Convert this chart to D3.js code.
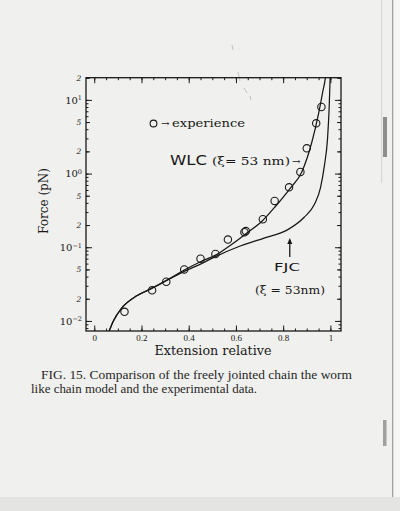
<!DOCTYPE html>
<html>
<head>
<meta charset="utf-8">
<script src="https://cdn.jsdelivr.net/npm/d3@7"></script>
<style>
  body { margin: 0; background: #efefed; }
  svg { display: block; }
</style>
</head>
<body>
<div id="chart"></div>
<script>
// experimental points (relative extension, force in pN)
var expX = [0.128, 0.245, 0.305, 0.381, 0.450, 0.513, 0.566, 0.636, 0.642, 0.714, 0.764, 0.825, 0.873, 0.900, 0.940, 0.962];
var expF = [0.0133, 0.026, 0.034, 0.050, 0.070, 0.081, 0.127, 0.160, 0.166, 0.240, 0.425, 0.65, 1.05, 2.2, 4.8, 8.0];

// worm like chain curve
var wlcX = [0.060, 0.081, 0.116, 0.180, 0.237, 0.315, 0.381, 0.450, 0.520, 0.580, 0.642, 0.710, 0.768, 0.828, 0.880, 0.922, 0.950, 0.968, 0.979, 0.984];
var wlcF = [0.0069, 0.0100, 0.0149, 0.0219, 0.0270, 0.0369, 0.0490, 0.0635, 0.0800, 0.108, 0.152, 0.225, 0.36, 0.62, 1.07, 2.7, 6.5, 13, 20, 28];

// freely jointed chain curve
var fjcX = [0.060, 0.081, 0.116, 0.180, 0.237, 0.315, 0.381, 0.450, 0.513, 0.605, 0.719, 0.818, 0.889, 0.932, 0.958, 0.975, 0.988, 0.995, 0.999, 1.001];
var fjcF = [0.0069, 0.0100, 0.0149, 0.0219, 0.0270, 0.0365, 0.0470, 0.0590, 0.0747, 0.100, 0.133, 0.172, 0.255, 0.38, 0.64, 1.3, 3.0, 8.0, 20, 30];

// tick labels
var xMajor = [0, 0.2, 0.4, 0.6, 0.8, 1];
var xMajorLabels = ["0", "0.2", "0.4", "0.6", "0.8", "1"];
var yDecades = [0.01, 0.1, 1, 10];
var yDecadeExp = ["\u22122", "\u22121", "0", "1"];
var ySmall = [0.02, 0.05, 0.2, 0.5, 2, 5, 20];
var ySmallLabels = ["2", "5", "2", "5", "2", "5", "2"];

function drawChart() {
  var W = 400, H = 511;
  var left = 86, right = 341, top = 77.7, bottom = 331;
  var ink = "#181818";

  var svg = d3.select("#chart").append("svg")
    .attr("width", W)
    .attr("height", H);

  // scanned page look
  svg.append("rect").attr("width", W).attr("height", H).attr("fill", "#f0f0ee");
  svg.append("rect").attr("x", 393).attr("width", 7).attr("height", H).attr("fill", "#f6f6f5");
  svg.append("line").attr("x1", 392.7).attr("x2", 392.7).attr("y1", 0).attr("y2", H)
    .attr("stroke", "#9a9a9a").attr("stroke-width", 1.2);
  svg.append("line").attr("x1", 381.7).attr("x2", 381.7).attr("y1", 0).attr("y2", 183)
    .attr("stroke", "#c9c9c9").attr("stroke-width", 0.8);
  svg.append("rect").attr("x", 383).attr("y", 117).attr("width", 4).attr("height", 40).attr("fill", "#8e8e8e");
  svg.append("rect").attr("x", 383).attr("y", 420).attr("width", 3.5).attr("height", 26).attr("fill", "#a0a0a0");
  svg.append("rect").attr("y", 497).attr("width", W).attr("height", 14).attr("fill", "#e4e4e2");
  // faint specks from the scan
  svg.append("path")
    .attr("d", "M238,72l2,9M244,88l3,5M250,96l1,4M232,45l1,5")
    .attr("stroke", "#b5b5b5").attr("stroke-width", 0.8).attr("fill", "none");

  var x = d3.scaleLinear().domain([-0.035, 1.045]).range([left, right]);
  var y = d3.scaleLog().domain([0.0073, 20]).range([bottom, top]);

  function clean(g) {
    g.select(".domain").remove();
    g.selectAll("line").attr("stroke", ink).attr("stroke-width", 1);
  }

  // minor ticks on all four sides (pointing inward)
  var xMinor = x.ticks(20);
  var yMinor = y.ticks();
  svg.append("g").attr("transform", "translate(0," + bottom + ")")
    .call(d3.axisBottom(x).tickValues(xMinor).tickSize(-2.5).tickSizeOuter(0).tickFormat(""))
    .call(clean);
  svg.append("g").attr("transform", "translate(0," + top + ")")
    .call(d3.axisTop(x).tickValues(xMinor).tickSize(-2.5).tickSizeOuter(0).tickFormat(""))
    .call(clean);
  svg.append("g").attr("transform", "translate(" + left + ",0)")
    .call(d3.axisLeft(y).tickValues(yMinor).tickSize(-2.5).tickSizeOuter(0).tickFormat(""))
    .call(clean);
  svg.append("g").attr("transform", "translate(" + right + ",0)")
    .call(d3.axisRight(y).tickValues(yMinor).tickSize(-2.5).tickSizeOuter(0).tickFormat(""))
    .call(clean);
  svg.append("g").attr("transform", "translate(" + left + ",0)")
    .call(d3.axisLeft(y).tickValues(ySmall).tickSize(-4).tickSizeOuter(0).tickFormat(""))
    .call(clean);
  svg.append("g").attr("transform", "translate(" + right + ",0)")
    .call(d3.axisRight(y).tickValues(ySmall).tickSize(-4).tickSizeOuter(0).tickFormat(""))
    .call(clean);

  // major ticks
  var xAxis = svg.append("g").attr("transform", "translate(0," + bottom + ")")
    .call(d3.axisBottom(x).tickValues(xMajor).tickSize(-5.5).tickSizeOuter(0).tickPadding(3.5)
      .tickFormat(function(d, i) { return xMajorLabels[i]; }))
    .call(clean);
  xAxis.selectAll("text")
    .attr("font-family", "'Liberation Serif', serif")
    .attr("font-size", 9)
    .attr("fill", ink);
  svg.append("g").attr("transform", "translate(0," + top + ")")
    .call(d3.axisTop(x).tickValues(xMajor).tickSize(-5.5).tickSizeOuter(0).tickFormat(""))
    .call(clean);

  var yAxis = svg.append("g").attr("transform", "translate(" + left + ",0)")
    .call(d3.axisLeft(y).tickValues(yDecades).tickSize(-6).tickSizeOuter(0).tickPadding(4)
      .tickFormat(""))
    .call(clean);
  yAxis.selectAll(".tick text").each(function(d, i) {
    var t = d3.select(this)
      .attr("font-family", "'DejaVu Serif', serif")
      .attr("font-size", 10)
      .attr("fill", ink);
    t.append("tspan").text("10");
    t.append("tspan").attr("dy", "-0.5em").attr("font-size", 6.5).text(yDecadeExp[i]);
  });
  svg.append("g").attr("transform", "translate(" + right + ",0)")
    .call(d3.axisRight(y).tickValues(yDecades).tickSize(-6).tickSizeOuter(0).tickFormat(""))
    .call(clean);

  // small 2 / 5 labels
  var ySmallAxis = svg.append("g").attr("transform", "translate(" + left + ",0)")
    .call(d3.axisLeft(y).tickValues(ySmall).tickSize(0).tickPadding(7)
      .tickFormat(function(d, i) { return ySmallLabels[i]; }));
  ySmallAxis.select(".domain").remove();
  ySmallAxis.selectAll("text")
    .attr("text-anchor", "middle")
    .attr("font-family", "'DejaVu Serif', serif")
    .attr("font-style", "italic")
    .attr("font-size", 7.5)
    .attr("fill", ink);

  // frame
  svg.append("rect")
    .attr("x", left).attr("y", top)
    .attr("width", right - left).attr("height", bottom - top)
    .attr("fill", "none").attr("stroke", ink).attr("stroke-width", 1.3);

  // curves
  svg.append("clipPath").attr("id", "plotClip")
    .append("rect").attr("x", left).attr("y", top)
    .attr("width", right - left).attr("height", bottom - top);

  var line = d3.line()
    .x(function(d) { return x(d[0]); })
    .y(function(d) { return y(d[1]); })
    .curve(d3.curveMonotoneX);

  var curves = [d3.zip(wlcX, wlcF), d3.zip(fjcX, fjcF)];
  svg.append("g").attr("clip-path", "url(#plotClip)")
    .selectAll("path")
    .data(curves)
    .enter()
    .append("path")
    .attr("d", line)
    .attr("fill", "none")
    .attr("stroke", ink)
    .attr("stroke-width", 1.25);

  // experimental points
  svg.append("g").selectAll("circle")
    .data(d3.zip(expX, expF))
    .enter()
    .append("circle")
    .attr("cx", function(d) { return x(d[0]); })
    .attr("cy", function(d) { return y(d[1]); })
    .attr("r", 3.7)
    .attr("fill", "none")
    .attr("stroke", ink)
    .attr("stroke-width", 1.1);

  // legend / annotations
  svg.append("circle").attr("cx", 153.5).attr("cy", 123.5).attr("r", 3.4)
    .attr("fill", "none").attr("stroke", ink).attr("stroke-width", 1.1);
  svg.append("text").attr("x", 161).attr("y", 126.5)
    .attr("font-family", "'DejaVu Serif', serif").attr("font-size", 10).attr("fill", ink)
    .text("\u2192");
  svg.append("text").attr("x", 172).attr("y", 126.5)
    .attr("font-family", "'DejaVu Serif', serif").attr("font-size", 11.5).attr("fill", ink)
    .attr("textLength", 73).attr("lengthAdjust", "spacingAndGlyphs")
    .text("experience");

  svg.append("text").attr("x", 170).attr("y", 164.5)
    .attr("font-family", "'DejaVu Sans', sans-serif").attr("font-size", 13.5).attr("fill", ink)
    .attr("textLength", 37).attr("lengthAdjust", "spacingAndGlyphs")
    .text("WLC");
  svg.append("text").attr("x", 212).attr("y", 164.5)
    .attr("font-family", "'DejaVu Serif', serif").attr("font-size", 11.5).attr("fill", ink)
    .attr("textLength", 78).attr("lengthAdjust", "spacingAndGlyphs")
    .text("(\u03BE= 53 nm)");
  svg.append("text").attr("x", 292).attr("y", 164.5)
    .attr("font-family", "'DejaVu Serif', serif").attr("font-size", 10).attr("fill", ink)
    .text("\u2192");

  // arrow pointing to the FJC curve
  var ax = x(0.828), ay0 = y(0.074), ay1 = y(0.134);
  svg.append("line").attr("x1", ax).attr("x2", ax).attr("y1", ay0).attr("y2", ay1 + 2)
    .attr("stroke", ink).attr("stroke-width", 1.3);
  svg.append("path")
    .attr("d", "M" + ax + "," + ay1 + "l-2.5,6l5,0z")
    .attr("fill", ink);

  svg.append("text").attr("x", 274).attr("y", 271)
    .attr("font-family", "'DejaVu Sans', sans-serif").attr("font-size", 11).attr("fill", ink)
    .attr("textLength", 26).attr("lengthAdjust", "spacingAndGlyphs")
    .text("FJC");
  svg.append("text").attr("x", 255).attr("y", 294)
    .attr("font-family", "'DejaVu Serif', serif").attr("font-size", 11.5).attr("fill", ink)
    .attr("textLength", 70).attr("lengthAdjust", "spacingAndGlyphs")
    .text("(\u03BE = 53nm)");

  // axis titles
  svg.append("text").attr("x", 213).attr("y", 355)
    .attr("text-anchor", "middle")
    .attr("font-family", "'DejaVu Serif', serif").attr("font-size", 12).attr("fill", ink)
    .attr("textLength", 117).attr("lengthAdjust", "spacingAndGlyphs")
    .text("Extension relative");
  svg.append("text")
    .attr("transform", "translate(48,201) rotate(-90)")
    .attr("text-anchor", "middle")
    .attr("font-family", "'DejaVu Serif', serif").attr("font-size", 12).attr("fill", ink)
    .attr("textLength", 66).attr("lengthAdjust", "spacingAndGlyphs")
    .text("Force (pN)");

  // caption
  svg.append("text").attr("x", 41).attr("y", 378.5)
    .attr("font-family", "'Liberation Serif', serif").attr("font-size", 11.5).attr("fill", "#262626")
    .attr("textLength", 311).attr("lengthAdjust", "spacingAndGlyphs")
    .text("FIG. 15.  Comparison of the freely jointed chain the worm");
  svg.append("text").attr("x", 31).attr("y", 392.5)
    .attr("font-family", "'Liberation Serif', serif").attr("font-size", 11.5).attr("fill", "#262626")
    .attr("textLength", 226).attr("lengthAdjust", "spacingAndGlyphs")
    .text("like chain model and the experimental data.");
}

window.onload = function () {
  drawChart();
};
</script>
</body>
</html>
